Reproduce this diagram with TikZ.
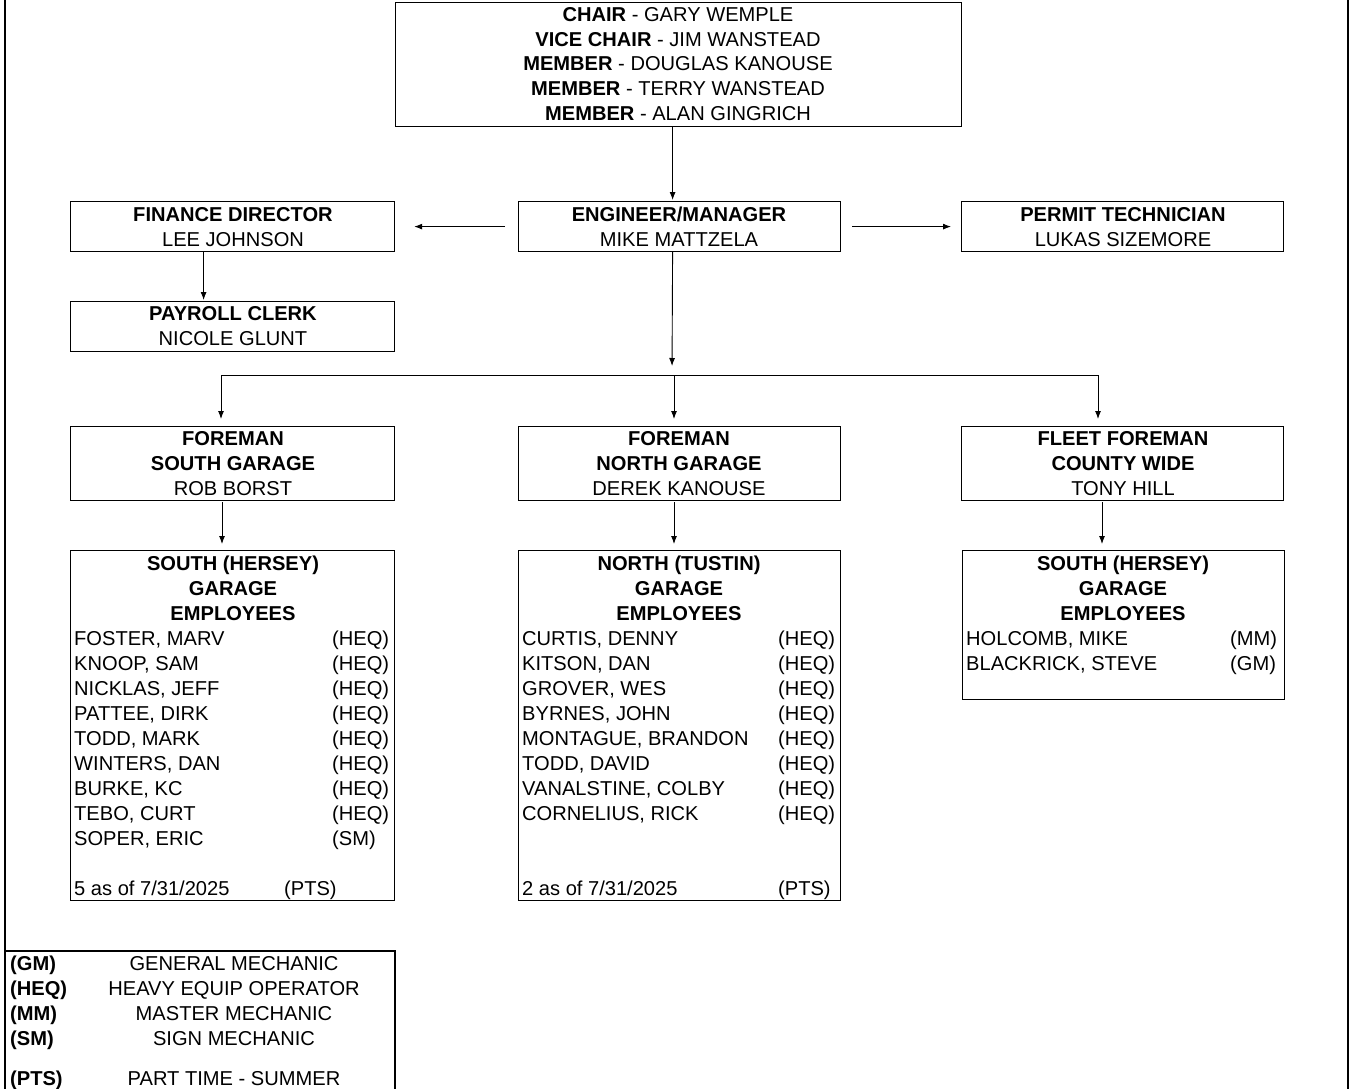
\documentclass[tikz,border=0pt]{standalone}
\usepackage{fontspec}
\setmainfont{Liberation Sans}
\usetikzlibrary{arrows.meta}
\begin{document}
\begin{tikzpicture}[x=1pt,y=-1pt,
  box/.style={draw, line width=1.2pt, inner sep=0pt, anchor=north west},
  txt/.style={font=\fontsize{20.1}{25}\selectfont, inner sep=0pt, anchor=base},
  txtl/.style={txt, anchor=base west},
  arr/.style={line width=0.9pt, -{Latex[length=8pt,width=6pt]}},
  ln/.style={line width=0.9pt}]
\useasboundingbox (0,0) rectangle (1354,1089);
% page border
\draw[line width=1.2pt] (5,0) -- (5,1089);
\draw[line width=1.2pt] (1348,0) -- (1348,1089);

% boxes
\node[box, minimum width=566pt, minimum height=124pt] (board) at (395,2) {};
\node[box, minimum width=322pt, minimum height=50pt] (eng) at (518,201) {};
\node[box, minimum width=324pt, minimum height=50pt] (fin) at (70,201) {};
\node[box, minimum width=322pt, minimum height=50pt] (perm) at (961,201) {};
\node[box, minimum width=324pt, minimum height=50pt] (pay) at (70,301) {};
\node[box, minimum width=324pt, minimum height=74pt] (fs) at (70,426) {};
\node[box, minimum width=322pt, minimum height=74pt] (fn) at (518,426) {};
\node[box, minimum width=322pt, minimum height=74pt] (ff) at (961,426) {};
\node[box, minimum width=324pt, minimum height=350pt] (es) at (70,550) {};
\node[box, minimum width=322pt, minimum height=350pt] (en) at (518,550) {};
\node[box, minimum width=322pt, minimum height=149pt] (ef) at (962,550) {};
\draw[line width=1.2pt] (5,951) -- (395,951) -- (395,1089);
\coordinate (legTL) at (5,951);

% board text
\node[txt] (b1) at (678,22) {\textbf{CHAIR} - GARY WEMPLE};
\node[txt] (b2) at (678,47) {\textbf{VICE CHAIR} - JIM WANSTEAD};
\node[txt] (b3) at (678,71) {\textbf{MEMBER} - DOUGLAS KANOUSE};
\node[txt] (b4) at (678,96) {\textbf{MEMBER} - TERRY WANSTEAD};
\node[txt] (b5) at (678,121) {\textbf{MEMBER} - ALAN GINGRICH};

% second row text
\node[txt] (e1) at (679,221) {\textbf{ENGINEER/MANAGER}};
\node[txt] (e2) at (679,246) {MIKE MATTZELA};
\node[txt] (f1) at (233,221) {\textbf{FINANCE DIRECTOR}};
\node[txt] (f2) at (233,246) {LEE JOHNSON};
\node[txt] (p1) at (1123,221) {\textbf{PERMIT TECHNICIAN}};
\node[txt] (p2) at (1123,246) {LUKAS SIZEMORE};
\node[txt] (y1) at (233,320) {\textbf{PAYROLL CLERK}};
\node[txt] (y2) at (233,345) {NICOLE GLUNT};

% foremen
\node[txt] (fs1) at (233,445) {\textbf{FOREMAN}};
\node[txt] (fs2) at (233,470) {\textbf{SOUTH GARAGE}};
\node[txt] (fs3) at (233,495) {ROB BORST};
\node[txt] (fn1) at (679,445) {\textbf{FOREMAN}};
\node[txt] (fn2) at (679,470) {\textbf{NORTH GARAGE}};
\node[txt] (fn3) at (679,495) {DEREK KANOUSE};
\node[txt] (ff1) at (1123,445) {\textbf{FLEET FOREMAN}};
\node[txt] (ff2) at (1123,470) {\textbf{COUNTY WIDE}};
\node[txt] (ff3) at (1123,495) {TONY HILL};

% employee headers
\node[txt] (es1) at (233,570) {\textbf{SOUTH (HERSEY)}};
\node[txt] (es2) at (233,595) {\textbf{GARAGE}};
\node[txt] (es3) at (233,620) {\textbf{EMPLOYEES}};
\node[txt] (en1) at (679,570) {\textbf{NORTH (TUSTIN)}};
\node[txt] (en2) at (679,595) {\textbf{GARAGE}};
\node[txt] (en3) at (679,620) {\textbf{EMPLOYEES}};
\node[txt] (ef1) at (1123,570) {\textbf{SOUTH (HERSEY)}};
\node[txt] (ef2) at (1123,595) {\textbf{GARAGE}};
\node[txt] (ef3) at (1123,620) {\textbf{EMPLOYEES}};

% south employees
\foreach \n/\c [count=\i from 0] in {{FOSTER, MARV}/(HEQ),{KNOOP, SAM}/(HEQ),{NICKLAS, JEFF}/(HEQ),{PATTEE, DIRK}/(HEQ),{TODD, MARK}/(HEQ),{WINTERS, DAN}/(HEQ),{BURKE, KC}/(HEQ),{TEBO, CURT}/(HEQ),{SOPER, ERIC}/(SM)}{
  \node[txtl] (sn\i) at (74,645+25*\i) {\n};
  \node[txtl] (sc\i) at (332,645+25*\i) {\c};
}
\node[txtl] (sfoot) at (74,895) {5 as of 7/31/2025};
\node[txtl] (sfootc) at (284,895) {(PTS)};

% north employees
\foreach \n/\c [count=\i from 0] in {{CURTIS, DENNY}/(HEQ),{KITSON, DAN}/(HEQ),{GROVER, WES}/(HEQ),{BYRNES, JOHN}/(HEQ),{MONTAGUE, BRANDON}/(HEQ),{TODD, DAVID}/(HEQ),{VANALSTINE, COLBY}/(HEQ),{CORNELIUS, RICK}/(HEQ)}{
  \node[txtl] (nn\i) at (522,645+25*\i) {\n};
  \node[txtl] (nc\i) at (778,645+25*\i) {\c};
}
\node[txtl] (nfoot) at (522,895) {2 as of 7/31/2025};
\node[txtl] (nfootc) at (778,895) {(PTS)};

% fleet employees
\node[txtl] (fe0) at (966,645) {HOLCOMB, MIKE};
\node[txtl] (fc0) at (1230,645) {(MM)};
\node[txtl] (fe1) at (966,670) {BLACKRICK, STEVE};
\node[txtl] (fc1) at (1230,670) {(GM)};

% legend
\foreach \c/\d/\yy [count=\i] in {(GM)/GENERAL MECHANIC/970,(HEQ)/HEAVY EQUIP OPERATOR/995,(MM)/MASTER MECHANIC/1020,(SM)/SIGN MECHANIC/1045,(PTS)/PART TIME - SUMMER/1085}{
  \node[txtl] (lc\i) at (10,\yy) {\textbf{\c}};
  \node[txt] (ld\i) at (234,\yy) {\d};
}

% connectors
\draw[arr, shorten >=1pt] ([xshift=-6pt]board.south) -- ([xshift=-7pt]eng.north);
\draw[arr, shorten <=13pt, shorten >=19pt] (eng.west) -- (fin.east);
\draw[arr, shorten <=11pt, shorten >=10pt] (eng.east) -- (perm.west);
\draw[arr, shorten >=1pt] ([xshift=-29pt]fin.south) -- ([xshift=-29pt]pay.north);
\coordinate (bar) at (672,375);
\coordinate (barL) at (221,375);
\coordinate (barM) at (674,375);
\coordinate (barR) at (1098,375);
\draw[arr, shorten >=9pt] ([xshift=-7pt]eng.south) -- (bar);
\draw[ln] (barL) -- (barR);
\draw[arr, shorten >=7pt] (barL) -- (barL |- fs.north);
\draw[arr, shorten >=7pt] (barM) -- (barM |- fn.north);
\draw[arr, shorten >=7pt] (barR) -- (barR |- ff.north);
\coordinate (dS) at (222,500);
\coordinate (dN) at (674,500);
\coordinate (dF) at (1102,500);
\draw[arr, shorten >=6pt, shorten <=2pt] (dS) -- (dS |- es.north);
\draw[arr, shorten >=6pt, shorten <=2pt] (dN) -- (dN |- en.north);
\draw[arr, shorten >=6pt, shorten <=2pt] (dF) -- (dF |- ef.north);
\end{tikzpicture}
\end{document}
